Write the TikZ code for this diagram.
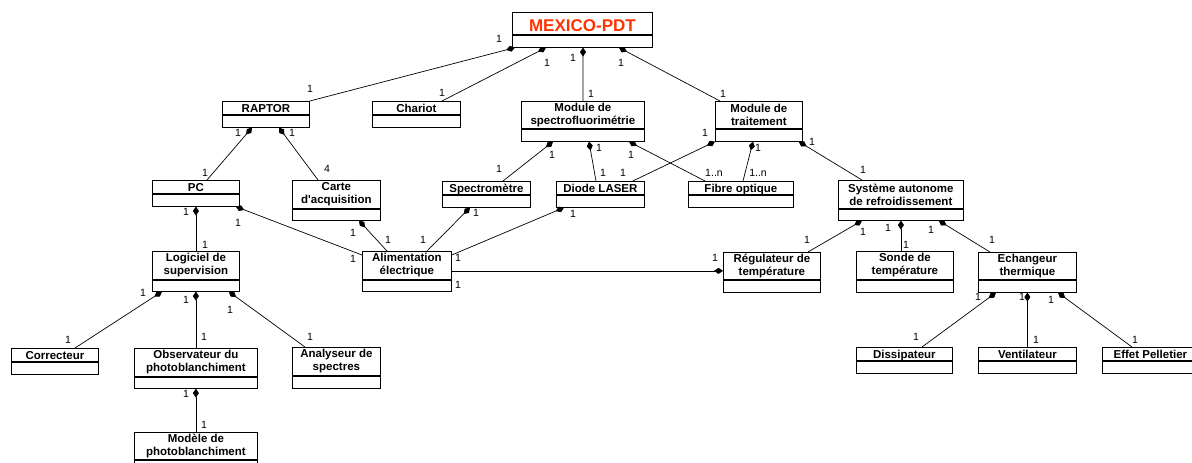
\documentclass[tikz,border=0pt]{standalone}
\usepackage{fontspec}
\setmainfont{Liberation Sans}
\usetikzlibrary{arrows.meta}
\definecolor{titlered}{RGB}{255,51,0}

\begin{document}
\begin{tikzpicture}[x=1pt,y=-1pt,
  cls/.style={draw,line width=0.8pt,anchor=north west,align=center,inner sep=0.5pt,
    font=\bfseries\fontsize{11.5}{13}\selectfont},
  one/.style={minimum height=13pt,text height=10.5pt,text depth=1.5pt},
  attr/.style={draw,line width=0.8pt,anchor=north,inner sep=0pt,minimum height=12pt},
  comp/.style={{Diamond[length=9pt,width=6pt]}-,line width=0.7pt},
  mult/.style={inner sep=0pt,font=\fontsize{10.5}{12}\selectfont}]
\clip (0,0) rectangle (1192,463);

% classes
\node[cls,minimum width=140pt,minimum height=22pt,text height=18.5pt,text depth=1.5pt,text=titlered,
  font=\bfseries\fontsize{17}{19}\selectfont] (mexico) at (512,12) {MEXICO-PDT};
\node[attr,minimum width=140pt] (mexico-a) at (mexico.south) {};

\node[cls,one,minimum width=87pt] (raptor) at (222,101) {RAPTOR};
\node[attr,minimum width=87pt] (raptor-a) at (raptor.south) {};
\node[cls,one,minimum width=88pt] (chariot) at (372,101) {Chariot};
\node[attr,minimum width=88pt] (chariot-a) at (chariot.south) {};
\node[cls,minimum width=123pt,minimum height=27pt] (spectro) at (521,101) {Module de\\spectrofluorimétrie};
\node[attr,minimum width=123pt] (spectro-a) at (spectro.south) {};
\node[cls,minimum width=87pt,minimum height=27pt] (traitement) at (715,101) {Module de\\traitement};
\node[attr,minimum width=87pt] (traitement-a) at (traitement.south) {};

\node[cls,one,minimum width=87pt] (pc) at (152,180) {PC};
\node[attr,minimum width=87pt] (pc-a) at (pc.south) {};
\node[cls,minimum width=88pt,minimum height=28pt] (carte) at (292,180) {Carte\\d\textquotesingle acquisition};
\node[attr,minimum width=88pt,minimum height=11pt] (carte-a) at (carte.south) {};
\node[cls,one,minimum width=88pt] (spectrometre) at (442,181) {Spectromètre};
\node[attr,minimum width=88pt] (spectrometre-a) at (spectrometre.south) {};
\node[cls,one,minimum width=88pt] (diode) at (556,181) {Diode LASER};
\node[attr,minimum width=88pt] (diode-a) at (diode.south) {};
\node[cls,one,minimum width=105pt] (fibre) at (688,181) {Fibre optique};
\node[attr,minimum width=105pt] (fibre-a) at (fibre.south) {};
\node[cls,minimum width=125pt,minimum height=28pt] (systeme) at (838,180) {Système autonome\\de refroidissement};
\node[attr,minimum width=125pt,minimum height=11pt] (systeme-a) at (systeme.south) {};

\node[cls,minimum width=87pt,minimum height=28pt] (logiciel) at (152,251) {Logiciel de\\supervision};
\node[attr,minimum width=87pt,minimum height=11pt] (logiciel-a) at (logiciel.south) {};
\node[cls,minimum width=89pt,minimum height=28pt] (alim) at (362,251) {Alimentation\\électrique};
\node[attr,minimum width=89pt,minimum height=11pt] (alim-a) at (alim.south) {};
\node[cls,minimum width=97pt,minimum height=27pt] (regulateur) at (723,252) {Régulateur de\\température};
\node[attr,minimum width=97pt] (regulateur-a) at (regulateur.south) {};
\node[cls,minimum width=97pt,minimum height=28pt] (sonde) at (856,251) {Sonde de\\température};
\node[attr,minimum width=97pt] (sonde-a) at (sonde.south) {};
\node[cls,minimum width=98pt,minimum height=27pt] (echangeur) at (978,252) {Echangeur\\thermique};
\node[attr,minimum width=98pt] (echangeur-a) at (echangeur.south) {};

\node[cls,one,minimum width=87pt] (correcteur) at (11,348) {Correcteur};
\node[attr,minimum width=87pt] (correcteur-a) at (correcteur.south) {};
\node[cls,minimum width=123pt,minimum height=28pt] (observateur) at (134,348) {Observateur du\\photoblanchiment};
\node[attr,minimum width=123pt,minimum height=11pt] (observateur-a) at (observateur.south) {};
\node[cls,minimum width=88pt,minimum height=28pt] (analyseur) at (292,347) {Analyseur de\\spectres};
\node[attr,minimum width=88pt] (analyseur-a) at (analyseur.south) {};
\node[cls,minimum width=123pt,minimum height=27pt] (modele) at (134,432) {Modèle de\\photoblanchiment};
\node[attr,minimum width=123pt] (modele-a) at (modele.south) {};

\node[cls,one,minimum width=96pt] (dissipateur) at (856,347) {Dissipateur};
\node[attr,minimum width=96pt] (dissipateur-a) at (dissipateur.south) {};
\node[cls,one,minimum width=98pt] (ventilateur) at (978,347) {Ventilateur};
\node[attr,minimum width=98pt] (ventilateur-a) at (ventilateur.south) {};
\node[cls,one,minimum width=96pt] (effet) at (1102,347) {Effet Pelletier};
\node[attr,minimum width=96pt] (effet-a) at (effet.south) {};

% compositions
\draw[comp] ([xshift=3pt]mexico-a.south west) -- (raptor.north east);
\draw[comp] ([xshift=34pt]mexico-a.south west) -- ([xshift=70pt]chariot.north west);
\draw[comp] ([xshift=71pt]mexico-a.south west) -- (spectro.north);
\draw[comp] ([xshift=107pt]mexico-a.south west) -- ([xshift=5pt]traitement.north west);
\draw[comp] ([xshift=30pt]raptor-a.south west) -- ([xshift=55pt]pc.north west);
\draw[comp] ([xshift=57pt]raptor-a.south west) -- ([xshift=26pt]carte.north west);
\draw[comp] (pc-a.south) -- (logiciel.north);
\draw[comp] ([xshift=-4pt]pc-a.south east) -- ([yshift=-4pt]alim.north west);
\draw[comp] ([xshift=67pt]carte-a.south west) -- ([xshift=25pt]alim.north west);
\draw[comp] ([xshift=28pt]spectrometre-a.south west) -- ([xshift=65pt]alim.north west);
\draw[comp] ([xshift=8pt]diode-a.south west) -- ([yshift=-4pt]alim.north east);
\draw[comp] ([yshift=-5pt]regulateur.west) -- ([yshift=-5pt]regulateur.west -| alim.east);
\draw[comp] ([xshift=32pt]spectro-a.south west) -- ([xshift=61pt]spectrometre.north west);
\draw[comp] ([xshift=68pt]spectro-a.south west) -- ([xshift=40pt]diode.north west);
\draw[comp] ([xshift=108pt]spectro-a.south west) -- ([xshift=17pt]fibre.north west);
\draw[comp] (traitement-a.south west) -- ([xshift=-12pt]diode.north east);
\draw[comp] ([xshift=38pt]traitement-a.south west) -- ([xshift=55pt]fibre.north west);
\draw[comp] ([xshift=-4pt]traitement-a.south east) -- ([xshift=24pt]systeme.north west);
\draw[comp] ([xshift=24pt]systeme-a.south west) -- ([xshift=85pt]regulateur.north west);
\draw[comp] (systeme-a.south) -- (systeme-a.south |- sonde.north);
\draw[comp] ([xshift=-25pt]systeme-a.south east) -- ([xshift=12pt]echangeur.north west);
\draw[comp] ([xshift=18pt]echangeur-a.south west) -- ([xshift=66pt]dissipateur.north west);
\draw[comp] (echangeur-a.south) -- (ventilateur.north);
\draw[comp] ([xshift=80pt]echangeur-a.south west) -- ([xshift=30pt]effet.north west);
\draw[comp] ([xshift=10pt]logiciel-a.south west) -- ([xshift=64pt]correcteur.north west);
\draw[comp] (logiciel-a.south) -- (observateur.north);
\draw[comp] ([xshift=-11pt]logiciel-a.south east) -- ([xshift=13pt]analyseur.north west);
\draw[comp] (observateur-a.south) -- (modele.north);

% multiplicities
\foreach \x/\y/\t [count=\i] in {499/39/1,310/89/1,547/63/1,442/93/1,573/58/1,591/94/1,621/63/1,723/94/1,
  238/133/1,205/173/1,292/133/1,327/169/4,186/212/1,205/245/1,238/223/1,353/259/1,353/233/1,388/240/1,
  476/213/1,423/240/1,573/214/1,458/258/1,715/258/1,458/285/1,552/155/1,499/169/1,599/148/1,603/173/1,
  631/155/1,714/173/1..n,705/133/1,623/173/1,758/148/1,758/173/1..n,812/142/1,863/170/1,
  863/232/1,807/240/1,888/228/1,906/245/1,931/230/1,992/240/1,978/297/1,916/337/1,1022/297/1,
  1036/340/1,1051/300/1,1135/340/1,143/293/1,68/340/1,186/300/1,204/337/1,230/310/1,310/337/1,
  186/394/1,204/425/1}
  \node[mult] (m\i) at (\x,\y) {\t};
\end{tikzpicture}
\end{document}
